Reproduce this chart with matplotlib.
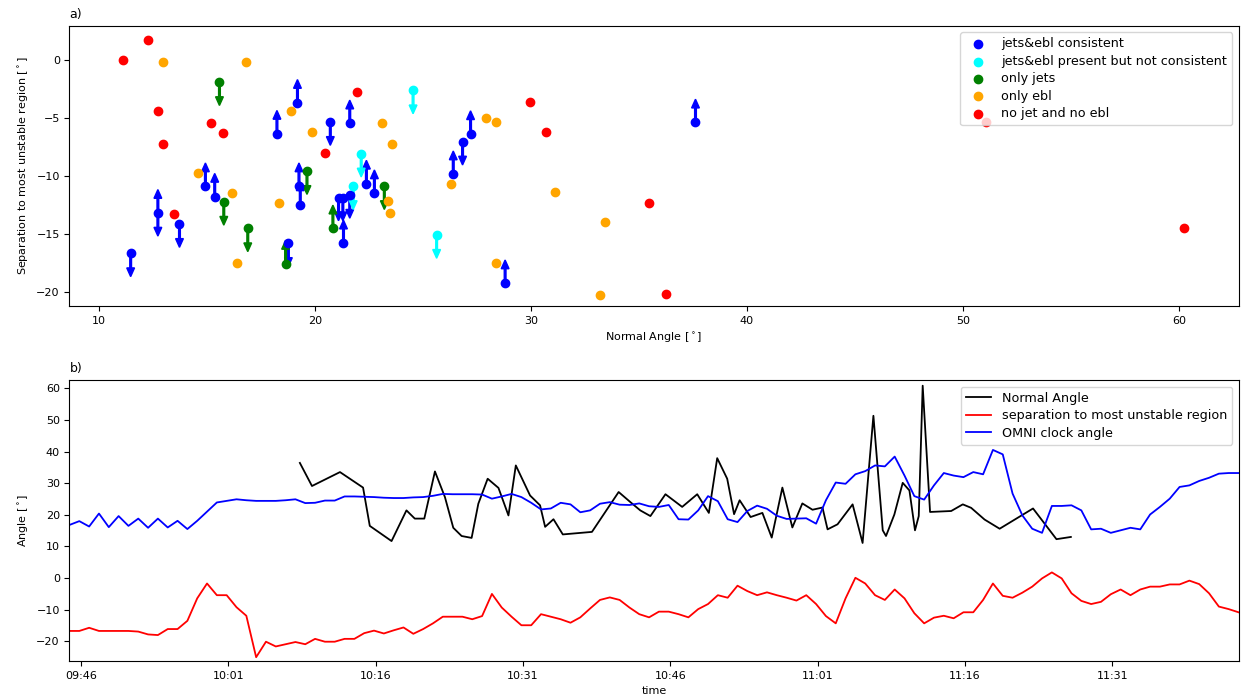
import matplotlib
matplotlib.use("Agg")
import matplotlib.pyplot as plt
import matplotlib.dates as mdates
import pandas as pd

# ---- panel a) : separation vs normal angle, one list per event class ----
blue_x = [11.48, 12.74, 13.74, 14.94, 15.37, 18.25, 19.2, 19.27, 19.33, 18.78, 20.72, 21.62,
          22.39, 22.76, 21.1, 21.3, 21.62, 21.33, 28.81, 26.41, 26.84, 27.21, 37.62]
blue_y = [-16.68, -13.19, -14.16, -10.9, -11.8, -6.38, -3.72, -10.9, -12.53, -15.8, -5.38, -5.49,
          -10.67, -11.5, -11.87, -11.87, -11.65, -15.82, -19.25, -9.87, -7.07, -6.41, -5.41]
blue_dir = ["down", "both", "down", "up", "up", "up", "up", "up", "up", "down", "down", "up",
            "up", "up", "down", "down", "down", "up", "up", "up", "down", "up", "up"]

cyan_x = [24.55, 22.15, 21.78, 25.64]
cyan_y = [-2.66, -8.1, -10.9, -15.1]
cyan_dir = ["down", "down", "down", "down"]

green_x = [15.59, 15.79, 16.9, 18.65, 19.64, 20.84, 23.22]
green_y = [-1.95, -12.25, -14.53, -17.57, -9.6, -14.53, -10.9]
green_dir = ["down", "down", "down", "up", "down", "up", "down"]

orange_x = [13.0, 16.8, 14.59, 16.19, 16.42, 18.35, 18.9, 19.88, 23.1, 23.56, 23.38, 23.49,
            26.29, 27.92, 28.37, 28.37, 31.12, 33.45, 33.2]
orange_y = [-0.17, -0.17, -9.73, -11.5, -17.5, -12.36, -4.46, -6.27, -5.47, -7.24, -12.19, -13.19,
            -10.67, -5.04, -5.38, -17.48, -11.42, -14.02, -20.23]

red_x = [11.14, 12.28, 12.74, 13.0, 13.48, 15.2, 15.76, 21.96, 20.47, 29.95, 30.69, 35.45,
         36.27, 60.25, 51.06]
red_y = [-0.03, 1.69, -4.46, -7.3, -13.3, -5.47, -6.35, -2.77, -8.0, -3.69, -6.27, -12.33,
         -20.14, -14.5, -5.4]

# ---- panel b) : time series ----
omni_start = "2015-11-04 09:44:50"
omni_clock_angle = [
    16.8, 18.0, 16.3, 20.4, 16.1, 19.6, 16.5, 18.8, 15.9, 18.8,
    16.0, 18.1, 15.5, 18.1, 21.0, 23.9, 24.4, 24.9, 24.6, 24.4,
    24.4, 24.4, 24.6, 24.9, 23.7, 23.8, 24.5, 24.5, 25.8, 25.8,
    25.7, 25.6, 25.4, 25.3, 25.3, 25.5, 25.6, 26.0, 26.6, 26.5,
    26.5, 26.5, 26.4, 25.1, 25.8, 26.6, 25.6, 23.8, 21.7, 22.0,
    23.8, 23.3, 20.8, 21.4, 23.5, 24.0, 23.2, 23.1, 23.6, 22.7,
    22.5, 23.1, 18.6, 18.5, 21.4, 25.9, 24.3, 18.6, 17.7, 21.2,
    22.9, 21.9, 19.7, 18.7, 18.8, 18.9, 17.2, 24.6, 30.2, 29.8,
    32.8, 33.8, 35.6, 35.3, 38.4, 32.4, 25.9, 24.8, 29.3, 33.2,
    32.4, 31.9, 33.5, 32.8, 40.5, 39.1, 26.7, 19.8, 15.6, 14.3,
    22.8, 22.8, 23.0, 21.4, 15.4, 15.6, 14.3, 15.1, 15.9, 15.4,
    20.1, 22.5, 25.1, 28.8, 29.3, 30.7, 31.7, 33.0, 33.2, 33.2]
separation = [
    -16.7, -16.7, -15.7, -16.7, -16.7, -16.7, -16.7, -16.9, -17.8, -18.0,
    -16.1, -16.1, -13.5, -6.4, -1.7, -5.4, -5.4, -9.2, -11.9, -25.0,
    -20.1, -21.6, -20.9, -20.2, -20.9, -19.2, -20.1, -20.1, -19.2, -19.2,
    -17.4, -16.6, -17.5, -16.5, -15.6, -17.6, -16.1, -14.3, -12.2, -12.2,
    -12.2, -13.0, -12.0, -5.0, -9.3, -12.2, -14.9, -14.9, -11.4, -12.2,
    -13.0, -14.1, -12.4, -9.6, -6.9, -6.1, -6.9, -9.3, -11.4, -12.4,
    -10.6, -10.6, -11.4, -12.4, -9.8, -8.2, -5.4, -6.2, -2.4, -4.1,
    -5.4, -4.5, -5.4, -6.2, -7.1, -5.4, -8.2, -12.0, -14.3, -6.4,
    0.1, -1.7, -5.4, -6.9, -3.6, -6.4, -11.1, -14.3, -12.5, -11.9,
    -12.7, -10.8, -10.8, -6.9, -1.7, -5.6, -6.2, -4.6, -2.7, -0.1,
    1.8, -0.1, -4.8, -7.2, -8.2, -7.5, -5.1, -3.6, -5.4, -3.6,
    -2.7, -2.7, -2.0, -2.0, -0.8, -1.9, -4.8, -9.0, -9.8, -10.8]

normal_angle_time = [
    "10:08:17", "10:09:31", "10:12:22", "10:14:43", "10:15:24", "10:17:37", "10:19:08",
    "10:19:59", "10:20:57", "10:22:02", "10:23:03", "10:23:54", "10:24:45", "10:25:46",
    "10:26:27", "10:27:24", "10:28:30", "10:29:31", "10:30:16", "10:31:43", "10:32:44",
    "10:33:15", "10:34:06", "10:35:03", "10:38:01", "10:40:44", "10:41:56", "10:42:56",
    "10:43:58", "10:45:30", "10:47:12", "10:48:44", "10:49:55", "10:50:46", "10:51:47",
    "10:52:29", "10:53:03", "10:54:10", "10:55:22", "10:56:19", "10:57:24", "10:58:25",
    "10:59:26", "11:00:28", "11:01:29", "11:02:00", "11:03:01", "11:04:33", "11:05:34",
    "11:06:40", "11:07:37", "11:07:57", "11:08:48", "11:09:39", "11:10:20", "11:10:54",
    "11:11:17", "11:11:41", "11:12:26", "11:14:35", "11:15:46", "11:16:37", "11:17:59",
    "11:19:31", "11:22:55", "11:25:18", "11:26:46"]
normal_angle = [
    36.4, 29.1, 33.5, 28.6, 16.5, 11.7, 21.4, 18.8, 18.8, 33.7, 25.6, 15.9, 13.3, 12.7,
    23.5, 31.4, 28.5, 19.8, 35.6, 26.1, 23.0, 16.2, 18.6, 13.8, 14.6, 27.2, 24.0, 21.4,
    19.6, 26.5, 22.5, 26.5, 20.6, 37.9, 31.4, 20.2, 24.6, 19.3, 20.6, 12.8, 28.6, 16.0,
    23.6, 21.6, 22.3, 15.4, 17.0, 23.3, 11.1, 51.3, 15.1, 13.3, 20.1, 30.1, 27.7, 15.1,
    19.6, 60.8, 20.9, 21.2, 23.3, 22.2, 18.5, 15.6, 22.0, 12.3, 13.0]

tick_times = ["09:46", "10:01", "10:16", "10:31", "10:46", "11:01", "11:16", "11:31"]


def draw_arrows(ax, xs, ys, dirs, color):
    for x, y, d in zip(xs, ys, dirs):
        signs = [1, -1] if d == "both" else ([1] if d == "up" else [-1])
        for s in signs:
            ax.arrow(x, y, 0, 2.0 * s, width=0.08, head_width=0.36, head_length=0.75,
                     length_includes_head=True, color=color, zorder=1)


plt.rcParams["font.size"] = 8
fig = plt.figure(figsize=(12.41, 7), dpi=100)

ax1 = fig.add_axes([0.056, 0.563, 0.942, 0.4])
draw_arrows(ax1, blue_x, blue_y, blue_dir, "blue")
draw_arrows(ax1, cyan_x, cyan_y, cyan_dir, "cyan")
draw_arrows(ax1, green_x, green_y, green_dir, "green")
ax1.scatter(blue_x, blue_y, s=36, color="blue", label="jets&ebl consistent", zorder=2)
ax1.scatter(cyan_x, cyan_y, s=36, color="cyan", label="jets&ebl present but not consistent", zorder=2)
ax1.scatter(green_x, green_y, s=36, color="green", label="only jets", zorder=2)
ax1.scatter(orange_x, orange_y, s=36, color="orange", label="only ebl", zorder=2)
ax1.scatter(red_x, red_y, s=36, color="red", label="no jet and no ebl", zorder=2)
ax1.set_xlim(8.65, 62.75)
ax1.set_ylim(-21.2, 2.9)
ax1.set_xlabel("Normal Angle [$^\\circ$]")
ax1.set_ylabel("Separation to most unstable region [$^\\circ$]")
ax1.set_title("a)", loc="left", fontsize=9)
ax1.legend(loc="upper right", scatterpoints=1, fontsize=9.2, labelspacing=0.35)

# ---- panel b) ----
omni_time = pd.date_range(omni_start, periods=len(omni_clock_angle), freq="1min")
day = omni_start.split()[0]
na_time = pd.to_datetime([day + " " + t for t in normal_angle_time])
ticks = pd.to_datetime([day + " " + t for t in tick_times])

ax2 = fig.add_axes([0.056, 0.0557, 0.942, 0.401])
ax2.plot(na_time, normal_angle, color="black", lw=1.3, label="Normal Angle")
ax2.plot(omni_time, separation, color="red", lw=1.3, label="separation to most unstable region")
ax2.plot(omni_time, omni_clock_angle, color="blue", lw=1.3, label="OMNI clock angle")
ax2.set_xlim(omni_time[0], omni_time[-1])
ax2.set_ylim(-26.2, 62.5)
ax2.set_xticks(ticks)
ax2.xaxis.set_major_formatter(mdates.DateFormatter("%H:%M"))
ax2.set_xlabel("time")
ax2.set_ylabel("Angle [$^\\circ$]")
ax2.set_title("b)", loc="left", fontsize=9)
ax2.legend(loc="upper right", fontsize=9.2, labelspacing=0.35)

fig.savefig("out.png", dpi=100)
